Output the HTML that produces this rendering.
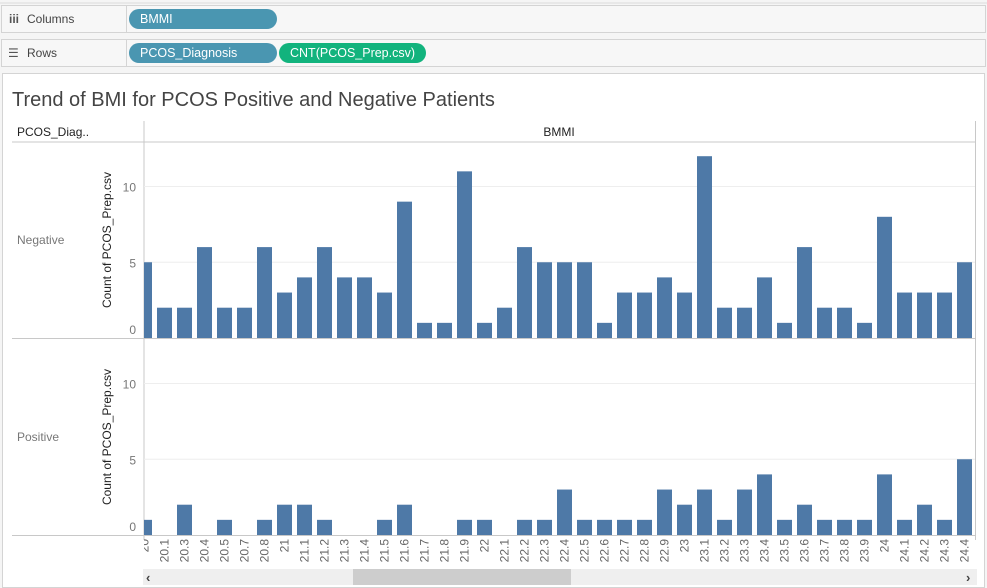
<!DOCTYPE html>
<html><head><meta charset="utf-8">
<style>
body{margin:0;background:#f5f5f5;font-family:"Liberation Sans",sans-serif;}
svg{display:block}
</style></head>
<body>
<svg id="chart" width="987" height="588" xmlns="http://www.w3.org/2000/svg">
  <rect x="0" y="0" width="987" height="588" fill="#f5f5f5"/>
  <line x1="0" y1="3" x2="987" y2="3" stroke="#dcdcdc"/>
  <g>
    <rect x="1.5" y="5.5" width="984" height="27" fill="#f7f7f7" stroke="#d4d4d4"/>
    <line x1="126.5" y1="5.5" x2="126.5" y2="32.5" stroke="#d4d4d4"/>
    <text x="9" y="23" font-size="12" fill="#555" font-weight="bold">iii</text>
    <text x="27" y="23" font-size="12" fill="#444">Columns</text>
    <g>
      <rect x="129" y="9" width="148" height="20" rx="10" fill="#4a96b1"/>
      <text x="140" y="23" font-size="12.5" fill="#fff">BMMI</text>
    </g>
  </g>
  <g>
    <rect x="1.5" y="39.5" width="984" height="27" fill="#f7f7f7" stroke="#d4d4d4"/>
    <line x1="126.5" y1="39.5" x2="126.5" y2="66.5" stroke="#d4d4d4"/>
    <text x="8" y="57" font-size="12" fill="#555">☰</text>
    <text x="27" y="57" font-size="12" fill="#444">Rows</text>
    <g>
      <rect x="129" y="43" width="148" height="20" rx="10" fill="#4a96b1"/>
      <text x="140" y="57" font-size="12.5" fill="#fff">PCOS_Diagnosis</text>
    </g>
    <g>
      <rect x="279" y="43" width="147" height="20" rx="10" fill="#12b37d"/>
      <text x="290" y="57" font-size="12.5" fill="#fff">CNT(PCOS_Prep.csv)</text>
    </g>
  </g>
  <rect x="2.5" y="73.5" width="982" height="514" fill="#fff" stroke="#d4d4d4"/>
  <text x="12" y="106" font-size="20" fill="#444">Trend of BMI for PCOS Positive and Negative Patients</text>
  <text x="17" y="136" font-size="12" fill="#222">PCOS_Diag..</text>
  <text x="559" y="136" font-size="12" fill="#222" text-anchor="middle">BMMI</text>
  <line x1="12" y1="142" x2="975" y2="142" stroke="#c8c8c8"/>
  <line x1="144" y1="121" x2="144" y2="540" stroke="#c8c8c8"/>
  <line x1="975.5" y1="121" x2="975.5" y2="540" stroke="#c8c8c8"/>
  <text x="17" y="244" font-size="12" fill="#777">Negative</text>
  <text x="17" y="441" font-size="12" fill="#777">Positive</text>
  <g id="panes"></g>
  <g id="xlabels"></g>
  <g>
    <rect x="143" y="569" width="834" height="16" fill="#efefef"/>
    <rect x="353" y="569" width="218" height="16" fill="#cdcdcd"/>
    <text x="146" y="582" font-size="13" fill="#444" font-weight="bold">‹</text>
    <text x="966" y="582" font-size="13" fill="#444" font-weight="bold">›</text>
  </g>
</svg>
<script>
const categories = ["20","20.1","20.3","20.4","20.5","20.7","20.8","21","21.1","21.2","21.3","21.4","21.5","21.6","21.7","21.8","21.9","22","22.1","22.2","22.3","22.4","22.5","22.6","22.7","22.8","22.9","23","23.1","23.2","23.3","23.4","23.5","23.6","23.7","23.8","23.9","24","24.1","24.2","24.3","24.4"];
const negativeCounts = [5,2,2,6,2,2,6,3,4,6,4,4,3,9,1,1,11,1,2,6,5,5,5,1,3,3,4,3,12,2,2,4,1,6,2,2,1,8,3,3,3,5];
const positiveCounts = [1,0,2,0,1,0,1,2,2,1,0,0,1,2,0,0,1,1,0,1,1,3,1,1,1,1,3,2,3,1,3,4,1,2,1,1,1,4,1,2,1,5];
const yTicks = [0,5,10];

const NS = "http://www.w3.org/2000/svg";
const plotL = 144, plotR = 975, step = 20, barW = 15;
const xCenter = i => 144.5 + step * i;
function mk(tag, attrs, parent){const e=document.createElementNS(NS,tag);for(const k in attrs)e.setAttribute(k,attrs[k]);parent.appendChild(e);return e;}
const panes = document.getElementById('panes');
const defs = mk('defs',{},panes);
const cp = mk('clipPath',{id:'plotclip'},defs);
mk('rect',{x:plotL,y:140,width:plotR-plotL,height:400},cp);

function drawPane(values, zeroY, name){
  const yScale = v => zeroY - v * 15.15;
  const g = mk('g',{},panes);
  
  
  yTicks.forEach(t=>{
    const y = yScale(t);
    if(t>0){ const gl = mk('line',{x1:plotL,x2:plotR,y1:y,y2:y,stroke:'#eeeeee'},g);
      
       }
    const ly = t===0 ? y-4 : y+5;
    const tx = mk('text',{x:136,y:ly,'font-size':12,fill:'#777','text-anchor':'end'},g);
    
    
    tx.textContent = t;
  });
  const at = mk('text',{transform:`translate(111,${zeroY-98}) rotate(-90)`,'font-size':12,fill:'#222','text-anchor':'middle'},g);
  
  
  at.textContent = 'Count of PCOS_Prep.csv';
  const bg = mk('g',{'clip-path':'url(#plotclip)'},g);
  values.forEach((v,i)=>{
    if(v<=0) return;
    const y = yScale(v);
    const r = mk('rect',{x:xCenter(i)-barW/2,y:y,width:barW,height:zeroY-y,fill:'#4e79a7'},bg);
    
    
  });
  const bl = mk('line',{x1:12,x2:plotR,y1:zeroY+0.5,y2:zeroY+0.5,stroke:'#c8c8c8'},g);
  
  
}
drawPane(negativeCounts, 338, 'negative');
drawPane(positiveCounts, 535, 'positive');

const xl = document.getElementById('xlabels');
const clipL = mk('clipPath',{id:'xlclip'},defs);
mk('rect',{x:plotL,y:536,width:plotR-plotL,height:32},clipL);
const xg = mk('g',{'clip-path':'url(#xlclip)'},xl);
categories.forEach((c,i)=>{
  const t = mk('text',{transform:`translate(${xCenter(i)+4},539) rotate(-90)`,'font-size':12,fill:'#666','text-anchor':'end'},xg);
  
  
  t.textContent = c;
});
</script>
</body></html>
